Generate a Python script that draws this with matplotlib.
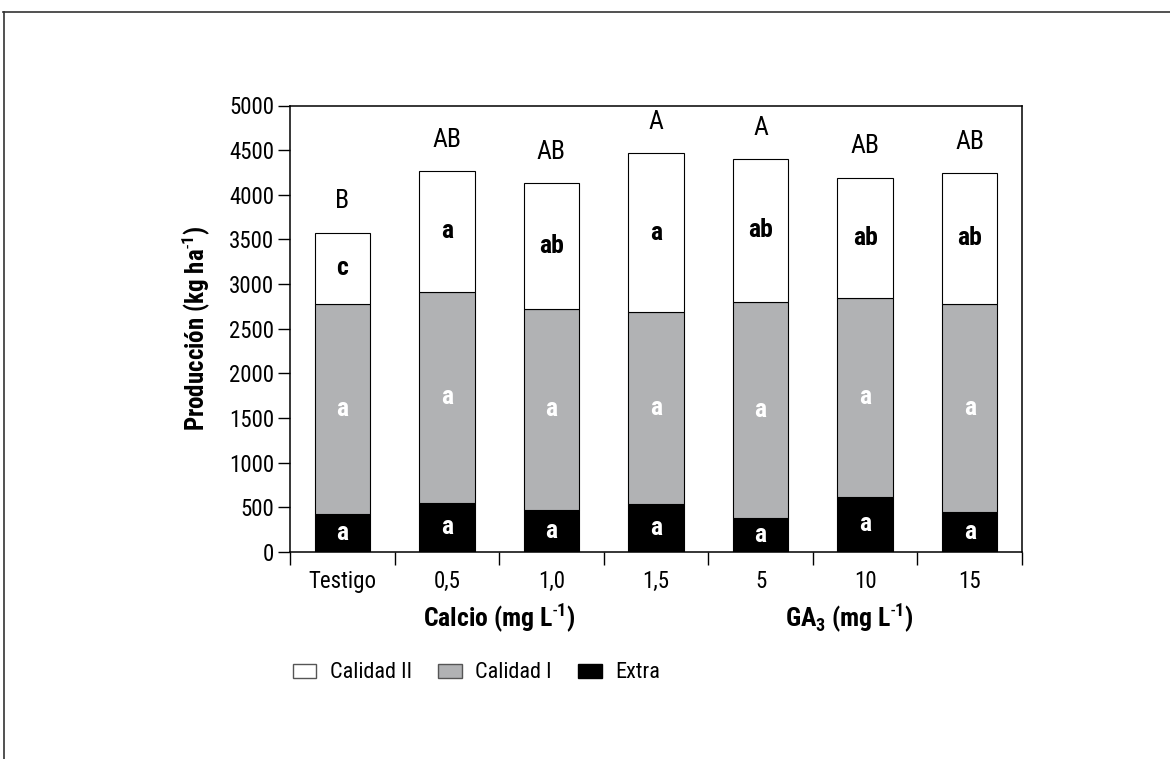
import matplotlib
matplotlib.use("Agg")
import matplotlib.pyplot as plt
from matplotlib import font_manager as fm
from matplotlib.patches import Patch
from matplotlib.lines import Line2D
import numpy as np

# production by quality class (kg/ha)
categories = ["Testigo", "0,5", "1,0", "1,5", "5", "10", "15"]
extra = [430, 549, 475, 543, 386, 617, 448]
calidad_1 = [2347, 2366, 2242, 2141, 2417, 2231, 2332]
calidad_2 = [800, 1350, 1413, 1782, 1596, 1345, 1462]

# mean separation letters
letras_total = ["B", "AB", "AB", "A", "A", "AB", "AB"]
letras_c2 = ["c", "a", "ab", "a", "ab", "ab", "ab"]
letras_c1 = ["a", "a", "a", "a", "a", "a", "a"]
letras_extra = ["a", "a", "a", "a", "a", "a", "a"]

# pick a narrow sans if one is around
fonts = fm.fontManager.ttflist
names = {f.name for f in fonts}
stretch = "normal"
if "Liberation Sans Narrow" in names:
    fam = "Liberation Sans Narrow"
elif "Roboto Condensed" in names:
    fam = "Roboto Condensed"
elif any(f.name == "DejaVu Sans" and "condensed" in str(f.stretch) for f in fonts):
    fam = "DejaVu Sans"
    stretch = "condensed"
else:
    fam = "Liberation Sans"

plt.rcParams["font.family"] = fam
plt.rcParams["font.stretch"] = stretch
plt.rcParams["mathtext.fontset"] = "custom"
plt.rcParams["mathtext.rm"] = fam
plt.rcParams["mathtext.bf"] = fam + ":bold"

W, H = 1170, 759
fig = plt.figure(figsize=(W / 100, H / 100), dpi=100)
ax = fig.add_axes([290 / W, 1 - 552 / H, 732 / W, (552 - 105.5) / H])

x = np.arange(len(categories))
e = np.array(extra)
c1 = np.array(calidad_1)
c2 = np.array(calidad_2)
bw = 0.53
gris = "#b1b2b4"

ax.bar(x, e, bw, color="black", edgecolor="black", lw=0.8)
ax.bar(x, c1, bw, bottom=e, color=gris, edgecolor="black", lw=0.8)
ax.bar(x, c2, bw, bottom=e + c1, color="white", edgecolor="black", lw=0.8)

fs = 16.5
fl = 18.5
for i in x:
    tot = e[i] + c1[i] + c2[i]
    ax.text(i, tot + 350, letras_total[i], ha="center", va="center", fontsize=fl)
    ax.text(i, e[i] + c1[i] + c2[i] / 2, letras_c2[i], ha="center", va="center",
            fontsize=fl, fontweight="bold", color="black")
    ax.text(i, e[i] + c1[i] / 2, letras_c1[i], ha="center", va="center",
            fontsize=fl, fontweight="bold", color="white")
    ax.text(i, e[i] / 2, letras_extra[i], ha="center", va="center",
            fontsize=fl, fontweight="bold", color="white")

ax.set_xlim(-0.5, len(categories) - 0.5)
ax.set_ylim(0, 5000)
ax.set_yticks(np.arange(0, 5001, 500))
ax.set_xticks(np.arange(-0.5, len(categories), 1.0))
ax.set_xticklabels([])
ax.set_xticks(x, minor=True)
ax.set_xticklabels(categories, minor=True)
ax.tick_params(axis="x", which="minor", length=0, pad=13, labelsize=fs)
ax.tick_params(axis="x", which="major", length=9.5, width=1.0, direction="out")
ax.tick_params(axis="y", length=8.5, width=1.0, direction="out", pad=3, labelsize=fs)
for s in ax.spines.values():
    s.set_linewidth(1.1)

sup = "$^{\\text{-}\\mathbf{1}}$"
ax.set_ylabel("Producción (kg ha" + sup + ")", fontsize=18, fontweight="bold",
              labelpad=12)

tr = ax.get_xaxis_transform()
ax.text(1.5, -0.148, "Calcio (mg L" + sup + ")", transform=tr, ha="center",
        va="center", fontsize=18.5, fontweight="bold")
ax.text(4.85, -0.148, "GA$_{\\mathbf{3}}$ (mg L" + sup + ")", transform=tr,
        ha="center", va="center", fontsize=18.5, fontweight="bold")

handles = [
    Patch(facecolor="white", edgecolor="#555555", lw=1.0),
    Patch(facecolor=gris, edgecolor="#555555", lw=1.0),
    Patch(facecolor="black", edgecolor="black", lw=1.0),
]
fig.legend(handles, ["Calidad II", "Calidad I", "Extra"], ncol=3, frameon=False,
           loc="center left", bbox_to_anchor=(293 / W, 1 - 673 / H), fontsize=16,
           handlelength=1.05, handleheight=0.6, handletextpad=0.6, columnspacing=1.2,
           borderpad=0, borderaxespad=0)

# page frame lines (top and left)
fig.add_artist(Line2D([3 / W, 1], [1 - 12 / H, 1 - 12 / H], transform=fig.transFigure,
                      color="#333333", lw=1.2))
fig.add_artist(Line2D([3.5 / W, 3.5 / W], [0, 1 - 12 / H], transform=fig.transFigure,
                      color="#333333", lw=1.2))

fig.savefig("out.png", dpi=100)
